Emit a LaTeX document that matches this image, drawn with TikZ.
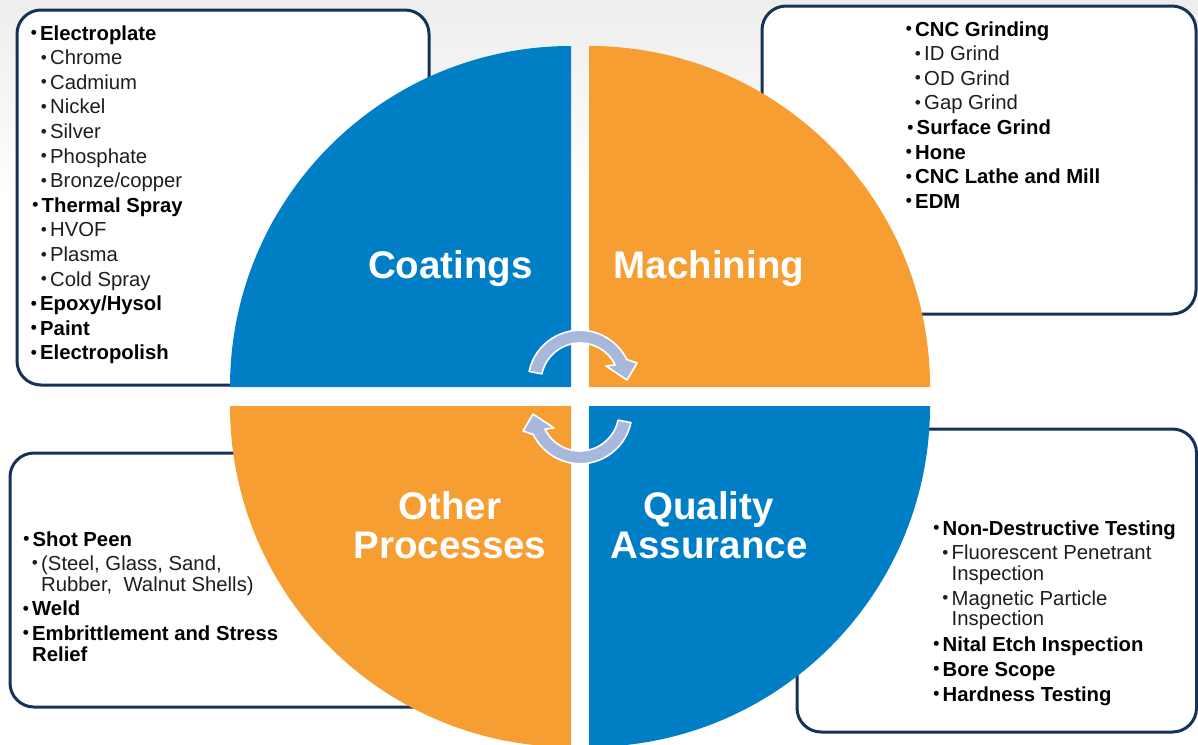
\documentclass[tikz,border=0pt]{standalone}
\usepackage{fontspec}
\setmainfont{Liberation Sans}
\definecolor{cblue}{RGB}{0,127,198}
\definecolor{corange}{RGB}{247,158,50}
\definecolor{navy}{RGB}{22,50,88}
\definecolor{lav}{RGB}{168,183,220}
\definecolor{txtgray}{RGB}{30,30,30}
\tikzset{
  panel/.style={draw=navy, line width=3pt, fill=white, rounded corners=24pt},
  lbl/.style={text=white, font=\fontsize{38.5}{40}\selectfont\bfseries, inner sep=0pt, anchor=base},
  li/.style={text=txtgray, font=\fontsize{20.3}{24}\selectfont, inner sep=0pt, anchor=base west},
  lb/.style={li, text=black, font=\fontsize{20.3}{24}\selectfont\bfseries},
  cyc/.style={fill=lav, draw=white, line width=1.6pt, line join=round}
}
\newcommand\bu{\llap{\raisebox{1.3pt}{\scalebox{0.85}{\textbullet}}\hspace{3.2pt}}}
\newcommand\cycpath{(529.1,371.4) arc[start angle=-168, end angle=-26, radius=52] -- (637,363) -- (627,380) -- (606,366) -- (615.1,364.9) arc[start angle=-26, end angle=-168, radius=39] -- cycle}
\begin{document}
\begin{tikzpicture}[x=1pt,y=-1pt]
\useasboundingbox (0,0) rectangle (1198,744);
\clip (0,0) rectangle (1198,744);
\fill[white] (0,0) rectangle (1198,744);
\shade[top color=black!7, bottom color=white] (0,0) rectangle (1198,200);

% panels
\draw[panel] (17,10) rectangle (429,385);
\draw[panel] (762,6) rectangle (1196,314);
\draw[panel] (10,453) rectangle (450,707);
\draw[panel] (797,429) rectangle (1196.5,732);

% quadrants
\fill[cblue] (571,387) -- (230,387) arc[start angle=180, end angle=270, radius=341] -- cycle;
\fill[corange] (589,387) -- (589,46) arc[start angle=270, end angle=360, radius=341] -- cycle;
\fill[corange] (571,406) -- (571,747) arc[start angle=90, end angle=180, radius=341] -- cycle;
\fill[cblue] (589,406) -- (930,406) arc[start angle=0, end angle=90, radius=341] -- cycle;

% cycle arrows
\path[cyc] \cycpath;
\begin{scope}[rotate around={180:(580,397)}]
\path[cyc] \cycpath;
\end{scope}

% quadrant labels
\node[lbl] (coat) at (450.5,278) {Coatings};
\node[lbl] (mach) at (709,278) {Machining};
\node[lbl] (oth1) at (450,519) {Other};
\node[lbl] (oth2) at (450,558.5) {Processes};
\node[lbl] (qa1) at (708.5,519) {Quality};
\node[lbl] (qa2) at (709,558.5) {Assurance};

% coatings list
\node[lb] (c1) at (40,40) {\bu Electroplate};
\node[li] (c2) at (50,64.6) {\bu Chrome};
\node[li] (c3) at (50,89.2) {\bu Cadmium};
\node[li] (c4) at (50,113.8) {\bu Nickel};
\node[li] (c5) at (50,138.4) {\bu Silver};
\node[li] (c6) at (50,163) {\bu Phosphate};
\node[li] (c7) at (50,187.6) {\bu Bronze/copper};
\node[lb] (c8) at (41.5,212.2) {\bu Thermal Spray};
\node[li] (c9) at (50,236.8) {\bu HVOF};
\node[li] (c10) at (50,261.4) {\bu Plasma};
\node[li] (c11) at (50,286) {\bu Cold Spray};
\node[lb] (c12) at (40,310.6) {\bu Epoxy/Hysol};
\node[lb] (c13) at (40,335.2) {\bu Paint};
\node[lb] (c14) at (40,359.8) {\bu Electropolish};

% machining list
\node[lb] (m1) at (915,36) {\bu CNC Grinding};
\node[li] (m2) at (924,60.6) {\bu ID Grind};
\node[li] (m3) at (924,85.2) {\bu OD Grind};
\node[li] (m4) at (924,109.8) {\bu Gap Grind};
\node[lb] (m5) at (916.5,134.4) {\bu Surface Grind};
\node[lb] (m6) at (915,159) {\bu Hone};
\node[lb] (m7) at (915,183.6) {\bu CNC Lathe and Mill};
\node[lb] (m8) at (915,208.2) {\bu EDM};

% other processes list
\node[lb] (o1) at (32.5,546) {\bu Shot Peen};
\node[li] (o2) at (41,570) {\bu (Steel, Glass, Sand,};
\node[li] (o3) at (41,591.7) {Rubber, \ Walnut Shells)};
\node[lb] (o4) at (32,615.7) {\bu Weld};
\node[lb] (o5) at (32,640) {\bu Embrittlement and Stress};
\node[lb] (o6) at (32,661.7) {Relief};

% quality list
\node[lb] (q1) at (942.5,535) {\bu Non-Destructive Testing};
\node[li] (q2) at (951.5,559.3) {\bu Fluorescent Penetrant};
\node[li] (q3) at (951.5,580.7) {Inspection};
\node[li] (q4) at (951.5,605) {\bu Magnetic Particle};
\node[li] (q5) at (951.5,625.7) {Inspection};
\node[lb] (q6) at (942.5,651) {\bu Nital Etch Inspection};
\node[lb] (q7) at (942.5,676) {\bu Bore Scope};
\node[lb] (q8) at (942.5,701) {\bu Hardness Testing};
\end{tikzpicture}
\end{document}
